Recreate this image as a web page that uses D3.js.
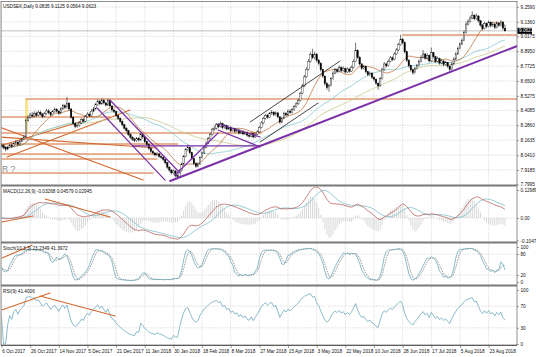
<!DOCTYPE html>
<html><head><meta charset="utf-8">
<script src="https://cdn.jsdelivr.net/npm/d3@7"></script>
<style>body{margin:0;background:#fff}svg{display:block}text{font-family:"Liberation Sans",Arial,sans-serif}</style>
</head><body><svg id="c" width="536" height="357"></svg>
<script>
// ---------------- DATA ----------------
const title = "USDSEK,Daily  9.0835 9.1125 9.0564 9.0623";
const firstOpen = 8.125;
const closes = [
 8.118,8.102,8.090,8.105,8.121,8.112,8.135,8.148,8.130,8.156,
 8.171,8.190,8.328,8.352,8.371,8.362,8.384,8.368,8.392,8.377,
 8.360,8.381,8.404,8.389,8.372,8.398,8.415,8.402,8.386,8.421,
 8.447,8.432,8.468,8.420,8.352,8.301,8.276,8.284,8.305,8.331,
 8.320,8.356,8.378,8.365,8.402,8.421,8.455,8.483,8.462,8.491,
 8.470,8.452,8.488,8.445,8.412,8.398,8.366,8.342,8.318,8.290,
 8.262,8.241,8.210,8.188,8.172,8.160,8.178,8.165,8.214,8.190,
 8.152,8.128,8.096,8.071,8.058,8.042,8.050,8.030,8.022,8.005,
 7.978,7.942,7.918,7.895,7.910,7.872,7.866,7.912,7.968,8.030,
 8.085,8.101,8.060,8.012,7.972,7.950,7.968,8.020,8.058,8.105,
 8.140,8.176,8.210,8.252,8.262,8.290,8.275,8.300,8.268,8.282,
 8.255,8.270,8.242,8.258,8.236,8.248,8.222,8.238,8.215,8.228,
 8.205,8.196,8.218,8.190,8.212,8.232,8.268,8.305,8.342,8.365,
 8.352,8.381,8.394,8.372,8.388,8.355,8.312,8.345,8.384,8.370,
 8.402,8.391,8.415,8.438,8.462,8.490,8.548,8.610,8.684,8.745,
 8.812,8.868,8.842,8.871,8.820,8.795,8.742,8.690,8.628,8.595,
 8.612,8.668,8.715,8.742,8.728,8.760,8.735,8.752,8.724,8.748,
 8.731,8.762,8.812,8.902,8.845,8.790,8.755,8.768,8.726,8.702,
 8.715,8.680,8.665,8.632,8.610,8.668,8.745,8.790,8.775,8.812,
 8.840,8.828,8.872,8.905,8.948,8.992,8.965,8.890,8.820,8.775,
 8.742,8.718,8.752,8.776,8.810,8.845,8.872,8.838,8.860,8.815,
 8.882,8.850,8.812,8.835,8.798,8.815,8.786,8.801,8.772,8.745,
 8.790,8.830,8.872,8.918,8.954,8.985,9.050,9.118,9.140,9.168,
 9.190,9.162,9.184,9.145,9.110,9.082,9.121,9.098,9.132,9.104,
 9.118,9.090,9.126,9.108,9.135,9.084,9.0623];
const highs = [
 8.142,8.131,8.115,8.118,8.134,8.140,8.146,8.163,8.158,8.168,
 8.186,8.205,8.345,8.368,8.389,8.395,8.401,8.398,8.410,8.405,
 8.388,8.396,8.422,8.418,8.398,8.412,8.433,8.428,8.410,8.436,
 8.462,8.458,8.520,8.478,8.428,8.360,8.312,8.298,8.320,8.344,
 8.346,8.370,8.392,8.390,8.418,8.436,8.470,8.500,8.494,8.508,
 8.502,8.480,8.505,8.496,8.452,8.425,8.405,8.375,8.352,8.326,
 8.298,8.272,8.250,8.220,8.196,8.184,8.190,8.188,8.232,8.224,
 8.198,8.160,8.136,8.104,8.082,8.066,8.064,8.058,8.041,8.030,
 8.012,7.986,7.950,7.926,7.922,7.918,7.884,7.924,7.980,8.042,
 8.098,8.128,8.110,8.068,8.020,7.984,7.980,8.032,8.070,8.118,
 8.154,8.190,8.225,8.266,8.284,8.305,8.302,8.318,8.308,8.296,
 8.290,8.284,8.278,8.270,8.266,8.262,8.256,8.250,8.246,8.240,
 8.236,8.216,8.230,8.226,8.224,8.246,8.282,8.320,8.356,8.380,
 8.378,8.396,8.410,8.402,8.400,8.395,8.362,8.358,8.398,8.394,
 8.416,8.418,8.430,8.452,8.478,8.506,8.562,8.626,8.700,8.762,
 8.830,8.886,8.915,8.890,8.880,8.832,8.804,8.752,8.698,8.640,
 8.628,8.682,8.730,8.758,8.756,8.778,8.772,8.768,8.760,8.762,
 8.758,8.778,8.828,8.965,8.912,8.854,8.798,8.782,8.776,8.734,
 8.728,8.722,8.690,8.672,8.640,8.682,8.760,8.806,8.802,8.828,
 8.856,8.852,8.888,8.920,8.964,9.030,9.004,8.974,8.898,8.830,
 8.784,8.750,8.766,8.790,8.826,8.862,8.905,8.880,8.876,8.868,
 8.925,8.890,8.858,8.850,8.842,8.830,8.822,8.816,8.808,8.780,
 8.804,8.846,8.888,8.934,8.970,9.002,9.066,9.136,9.158,9.186,
 9.222,9.200,9.204,9.192,9.152,9.118,9.136,9.130,9.148,9.140,
 9.134,9.126,9.142,9.134,9.150,9.142,9.1125];
const lows = [
 8.101,8.090,8.072,8.081,8.096,8.101,8.104,8.127,8.118,8.122,
 8.149,8.162,8.182,8.315,8.340,8.348,8.351,8.355,8.360,8.365,
 8.344,8.352,8.372,8.376,8.358,8.364,8.388,8.390,8.371,8.378,
 8.412,8.418,8.425,8.405,8.340,8.288,8.262,8.265,8.275,8.296,
 8.308,8.312,8.347,8.352,8.358,8.394,8.414,8.446,8.450,8.455,
 8.458,8.440,8.444,8.432,8.400,8.385,8.352,8.330,8.305,8.276,
 8.250,8.228,8.198,8.175,8.158,8.146,8.150,8.152,8.158,8.176,
 8.140,8.115,8.082,8.058,8.045,8.030,8.032,8.018,8.008,7.990,
 7.964,7.928,7.904,7.880,7.884,7.858,7.850,7.860,7.905,7.960,
 8.022,8.072,8.048,7.998,7.958,7.936,7.940,7.960,8.012,8.050,
 8.096,8.132,8.168,8.202,8.240,8.252,8.262,8.268,8.255,8.258,
 8.244,8.246,8.230,8.234,8.224,8.228,8.210,8.214,8.204,8.206,
 8.192,8.184,8.188,8.178,8.182,8.204,8.225,8.260,8.296,8.334,
 8.340,8.344,8.372,8.360,8.362,8.342,8.298,8.305,8.338,8.358,
 8.362,8.380,8.384,8.406,8.430,8.454,8.482,8.540,8.602,8.676,
 8.736,8.802,8.830,8.828,8.806,8.780,8.728,8.676,8.612,8.578,
 8.562,8.604,8.660,8.706,8.714,8.720,8.722,8.726,8.710,8.716,
 8.718,8.724,8.754,8.804,8.832,8.776,8.742,8.744,8.712,8.688,
 8.692,8.666,8.650,8.618,8.578,8.602,8.660,8.736,8.762,8.768,
 8.804,8.814,8.820,8.864,8.896,8.940,8.950,8.876,8.806,8.760,
 8.728,8.700,8.710,8.744,8.768,8.802,8.836,8.824,8.828,8.802,
 8.808,8.836,8.798,8.804,8.784,8.788,8.772,8.776,8.758,8.722,
 8.738,8.782,8.822,8.864,8.910,8.946,8.978,9.042,9.108,9.130,
 9.158,9.148,9.152,9.130,9.096,9.066,9.074,9.084,9.090,9.090,
 9.094,9.076,9.082,9.094,9.098,9.070,9.0564];

const dateLabels = ["6 Oct 2017","26 Oct 2017","14 Nov 2017","5 Dec 2017","21 Dec 2017","11 Jan 2018",
 "30 Jan 2018","18 Feb 2018","8 Mar 2018","27 Mar 2018","15 Apr 2018","3 May 2018","22 May 2018",
 "10 Jun 2018","28 Jun 2018","17 Jul 2018","5 Aug 2018","23 Aug 2018"];
const barsPerDateLabel = 14;
const priceTickLabels = ["9.2590","9.1360","9.0175","8.8950","8.7725","8.6500","8.5275","8.4085",
 "8.2860","8.1635","8.0410","7.9185","7.7995"];
const lastPriceLabel = "9.0623";
const macdTickLabels = ["0.12989","0.00","-0.1047"];
const stochTickLabels = ["100","80","20","0"];
const rsiTickLabels = ["100","70","30","0"];
const macdText = "MACD(12,26,9) -0.03268 0.04579 0.02945";
const stochText = "Stoch(10,3,3) 23.2349 41.3972";
const rsiText = "RSI(9) 41.4006";
const noteText = "R ?";

// indicator settings (periods)
const maFast = 14, maMid = 40, maSlow = 60;
const macdFast = 12, macdSlow = 26, macdSig = 9;
const stochK = 10, stochSlow = 3, stochD = 3;
const rsiPeriod = 9;

// drawn annotations in data space: [bar1, value1, bar2, value2]
const orangeLines = [
 [12, 8.502, 252, 8.502],
 [196, 9.028, 252, 9.028],
 [-1, 8.354, 53, 8.354],
 [-1, 8.223, 127, 8.223],
 [-1, 8.132, 86, 8.132],
 [-1, 8.050, 77.5, 8.050],
 [-1, 8.009, 76, 8.009],
 [-1, 7.894, 74, 7.894],
 [-1, 8.272, 69.2, 7.836],
 [-1, 8.190, 76, 8.099],
 [2.7, 8.025, 62.8, 8.412],
 [-1, 8.116, 39.8, 8.321]];
const purpleLines = [
 [53.0, 8.494, 87.2, 7.894],
 [46.7, 8.428, 79.9, 7.836],
 [64.3, 8.116, 126.4, 8.116],
 [84.8, 7.877, 105.8, 8.223],
 [105.8, 8.297, 126.4, 8.190],
 [105.8, 8.247, 126.4, 8.108]];
const purpleSupport = [[82.4, 7.828, 252, 8.938]];
const blackLines = [
 [121.5, 8.313, 165.4, 8.814],
 [126.4, 8.149, 154.7, 8.469]];
const yellowZone = [11.5, 13.0, 8.223, 8.502];
const macdTrend = [[0.2, -0.0186, 15.4, 0.0093],[21.3, 0.088, 53.0, 0.0046]];
const stochTrend = [[0.2, 68.6, 14.9, 105]];
const rsiTrend = [[0.2, 63, 23.7, 94.4],[18.8, 88.9, 55.5, 51.9]];
const notePos = [0.3, 7.905];

// ---------------- INDICATORS ----------------
const N = closes.length;
const opens = closes.map((c,i)=> i===0 ? firstOpen : closes[i-1]);
function sma(a,n){return a.map((v,i)=>d3.mean(a.slice(Math.max(0,i-n+1),i+1)));}
function ema(a,n){const k=2/(n+1);const out=[];a.forEach((v,i)=>out.push(i===0?v:v*k+out[i-1]*(1-k)));return out;}
const ma1 = sma(closes,maFast), ma2 = sma(closes,maMid), ma3 = sma(closes,maSlow);
const e1 = ema(closes,macdFast), e2 = ema(closes,macdSlow);
const macdMain = e1.map((v,i)=>v-e2[i]);
const macdSignal = sma(macdMain,macdSig);
const macdHist = macdMain.map((v,i)=>2*(v-macdSignal[i]));
const rawNum=[], rawDen=[];
for(let i=0;i<N;i++){const s=Math.max(0,i-stochK+1);const ll=d3.min(lows.slice(s,i+1)),hh=d3.max(highs.slice(s,i+1));rawNum.push(closes[i]-ll);rawDen.push(hh-ll);}
const stK = rawNum.map((v,i)=>{const s=Math.max(0,i-stochSlow+1);const num=d3.sum(rawNum.slice(s,i+1)),den=d3.sum(rawDen.slice(s,i+1));return den>0?100*num/den:50;});
const stD = sma(stK,stochD);
const rsi=[50];let ag=0,al=0;
for(let i=1;i<N;i++){const d=closes[i]-closes[i-1];const g=Math.max(d,0),l=Math.max(-d,0);
 if(i<=rsiPeriod){ag=(ag*(i-1)+g)/i;al=(al*(i-1)+l)/i;}else{ag=(ag*(rsiPeriod-1)+g)/rsiPeriod;al=(al*(rsiPeriod-1)+l)/rsiPeriod;}
 rsi.push(al===0?100:100-100/(1+ag/al));}

// ---------------- LAYOUT ----------------
const svg = d3.select("#c");
const FS = 4.7;
const XL = 1.5, XR = 517;
const panes = {main:[2,184.5], macd:[186.5,241.5], stoch:[243.5,284.5], rsi:[286.5,345.5]};
const x = d3.scaleLinear().domain([0,246]).range([1.5,505]);
const yP = d3.scaleLinear().domain([7.9185,8.65]).range([170,81]);
const yM = d3.scaleLinear().domain([-0.1047,0.12989]).range([240.5,190]);
const yS = d3.scaleLinear().domain([0,100]).range([282,247]);
const yR = d3.scaleLinear().domain([0,100]).range([344,290]);

const defs = svg.append("defs");
Object.entries(panes).forEach(([k,[t,b]])=>{
  defs.append("clipPath").attr("id","clip-"+k).append("rect").attr("x",XL).attr("y",t).attr("width",XR-XL).attr("height",b-t);
});
svg.append("rect").attr("width",536).attr("height",357).attr("fill","#fff");

const gridColor="#c4c4c4";
const dateIdx = dateLabels.map((d,i)=>i*barsPerDateLabel);
Object.values(panes).forEach(([t,b])=>{
  svg.append("g").selectAll("line").data(dateIdx).join("line")
    .attr("x1",d=>x(d)).attr("x2",d=>x(d)).attr("y1",t).attr("y2",b)
    .attr("stroke",gridColor).attr("stroke-width",0.6).attr("stroke-dasharray","1.2,1.2");
});
function hgrid(scale,vals,t,b){
  svg.append("g").selectAll("line").data(vals.filter(v=>scale(v)>t+1&&scale(v)<b-1)).join("line")
    .attr("x1",XL).attr("x2",XR).attr("y1",d=>scale(d)).attr("y2",d=>scale(d))
    .attr("stroke",gridColor).attr("stroke-width",0.6).attr("stroke-dasharray","1.2,1.2");
}
const priceVals = priceTickLabels.map(Number);
hgrid(yP,priceVals,...panes.main);
hgrid(yM,[0],...panes.macd);
hgrid(yS,[80,20],...panes.stoch);
hgrid(yR,[70,30],...panes.rsi);

// ---------------- MAIN PANE ----------------
const gm = svg.append("g").attr("clip-path","url(#clip-main)");
gm.append("rect").attr("x",x(yellowZone[0])).attr("width",x(yellowZone[1])-x(yellowZone[0]))
  .attr("y",yP(yellowZone[3])).attr("height",yP(yellowZone[2])-yP(yellowZone[3]))
  .attr("fill","#f3e27a").attr("opacity",0.85);
gm.append("line").attr("x1",XL).attr("x2",XR).attr("y1",yP(+lastPriceLabel)).attr("y2",yP(+lastPriceLabel))
  .attr("stroke","#a8a8a8").attr("stroke-width",0.7);

function segs(g,data,sx,sy,color,w){
  g.append("g").selectAll("line").data(data).join("line")
   .attr("x1",d=>sx(d[0])).attr("y1",d=>sy(d[1])).attr("x2",d=>sx(d[2])).attr("y2",d=>sy(d[3]))
   .attr("stroke",color).attr("stroke-width",w).attr("stroke-linecap","round");
}
segs(gm,orangeLines,x,yP,"#d4692f",1.1);

const lineGen = (sy)=>d3.line().x((d,i)=>x(i)).y(d=>sy(d));
gm.append("path").datum(ma3).attr("d",lineGen(yP)).attr("fill","none").attr("stroke","#c8c98a").attr("stroke-width",0.8);
gm.append("path").datum(ma2).attr("d",lineGen(yP)).attr("fill","none").attr("stroke","#86c9cf").attr("stroke-width",0.8);
gm.append("path").datum(ma1).attr("d",lineGen(yP)).attr("fill","none").attr("stroke","#b8672f").attr("stroke-width",0.7);

const bw = 1.5;
const cg = gm.append("g");
cg.selectAll("line").data(closes).join("line")
  .attr("x1",(d,i)=>x(i)).attr("x2",(d,i)=>x(i)).attr("y1",(d,i)=>yP(highs[i])).attr("y2",(d,i)=>yP(lows[i]))
  .attr("stroke","#000").attr("stroke-width",0.55);
cg.selectAll("rect").data(closes).join("rect")
  .attr("x",(d,i)=>x(i)-bw/2).attr("width",bw)
  .attr("y",(d,i)=>yP(Math.max(opens[i],d)))
  .attr("height",(d,i)=>Math.max(0.5,Math.abs(yP(opens[i])-yP(d))))
  .attr("fill",(d,i)=>d>=opens[i]?"#fff":"#000").attr("stroke","#000").attr("stroke-width",0.35);

segs(gm,purpleLines,x,yP,"#7b31a8",1.2);
segs(gm,purpleSupport,x,yP,"#7b31a8",2);
segs(gm,blackLines,x,yP,"#1a1a1a",0.8);

gm.append("text").attr("x",x(notePos[0])).attr("y",yP(notePos[1])).attr("font-size",8.5)
  .attr("fill","#8a8a8a").text(noteText);

// ---------------- MACD ----------------
const gmac = svg.append("g").attr("clip-path","url(#clip-macd)");
gmac.append("g").selectAll("line").data(macdHist).join("line")
  .attr("x1",(d,i)=>x(i)).attr("x2",(d,i)=>x(i)).attr("y1",yM(0)).attr("y2",d=>yM(d))
  .attr("stroke","#bcbcbc").attr("stroke-width",0.6);
gmac.append("path").datum(macdSignal).attr("d",lineGen(yM)).attr("fill","none").attr("stroke","#7dbfcc").attr("stroke-width",0.8);
gmac.append("path").datum(macdMain).attr("d",lineGen(yM)).attr("fill","none").attr("stroke","#b0524c").attr("stroke-width",0.7);
segs(gmac,macdTrend,x,yM,"#d4692f",1.1);

// ---------------- STOCH ----------------
const gst = svg.append("g").attr("clip-path","url(#clip-stoch)");
gst.append("path").datum(stD).attr("d",lineGen(yS)).attr("fill","none").attr("stroke","#555").attr("stroke-width",0.6).attr("stroke-dasharray","1.5,1");
gst.append("path").datum(stK).attr("d",lineGen(yS)).attr("fill","none").attr("stroke","#6fa9bd").attr("stroke-width",0.8);
segs(gst,stochTrend,x,yS,"#d4692f",1.1);

// ---------------- RSI ----------------
const grs = svg.append("g").attr("clip-path","url(#clip-rsi)");
grs.append("path").datum(rsi).attr("d",lineGen(yR)).attr("fill","none").attr("stroke","#6fa9bd").attr("stroke-width",0.8);
segs(grs,rsiTrend,x,yR,"#d4692f",1.1);

// ---------------- FRAMES ----------------
svg.append("rect").attr("x",XL-0.5).attr("y",1.5).attr("width",XR-XL+0.5).attr("height",345-1.5)
  .attr("fill","none").attr("stroke","#606060").attr("stroke-width",0.7);
[185.5,242.5,285.5].forEach(y=>svg.append("line").attr("x1",XL-0.5).attr("x2",XR).attr("y1",y).attr("y2",y)
  .attr("stroke","#7a7a7a").attr("stroke-width",1.8));
svg.append("line").attr("x1",XL-0.5).attr("x2",XR).attr("y1",345.5).attr("y2",345.5).attr("stroke","#444").attr("stroke-width",0.8);

// ---------------- AXES ----------------
function rightAxis(scale,vals,labels){
  const g = svg.append("g").attr("transform",`translate(${XR},0)`)
    .call(d3.axisRight(scale).tickValues(vals).tickFormat((d,i)=>labels[i]).tickSize(2).tickPadding(1.5));
  g.select(".domain").remove();
  g.selectAll("line").attr("stroke","#444").attr("stroke-width",0.5);
  g.selectAll("text").attr("font-size",FS).attr("fill","#111").attr("font-family","Liberation Sans, Arial, sans-serif");
  return g;
}
rightAxis(yP,priceVals,priceTickLabels);
rightAxis(yM,macdTickLabels.map(Number),macdTickLabels);
rightAxis(yS,stochTickLabels.map(Number),stochTickLabels);
rightAxis(yR,rsiTickLabels.map(Number),rsiTickLabels);

const lp = +lastPriceLabel;
svg.append("rect").attr("x",XR+0.5).attr("y",yP(lp)-3).attr("width",14.5).attr("height",6).attr("fill","#000");
svg.append("text").attr("x",XR+2).attr("y",yP(lp)).attr("dy","0.35em").attr("font-size",FS).attr("fill","#fff").text(lastPriceLabel);

const gx = svg.append("g").attr("transform","translate(0,345.5)")
  .call(d3.axisBottom(x).tickValues(dateIdx).tickFormat((d,i)=>dateLabels[i]).tickSize(2.5).tickPadding(2));
gx.select(".domain").remove();
gx.selectAll("line").attr("stroke","#444").attr("stroke-width",0.5);
gx.selectAll("text").attr("font-size",FS).attr("fill","#111").attr("text-anchor","start").attr("dx","0.3");

const lab=(t,y)=>svg.append("text").attr("x",3).attr("y",y).attr("dy","0.35em").attr("font-size",FS).attr("fill","#111").text(t);
lab(title,6.5);
lab(macdText,191.5);
lab(stochText,248.5);
lab(rsiText,291.5);
</script></body></html>
